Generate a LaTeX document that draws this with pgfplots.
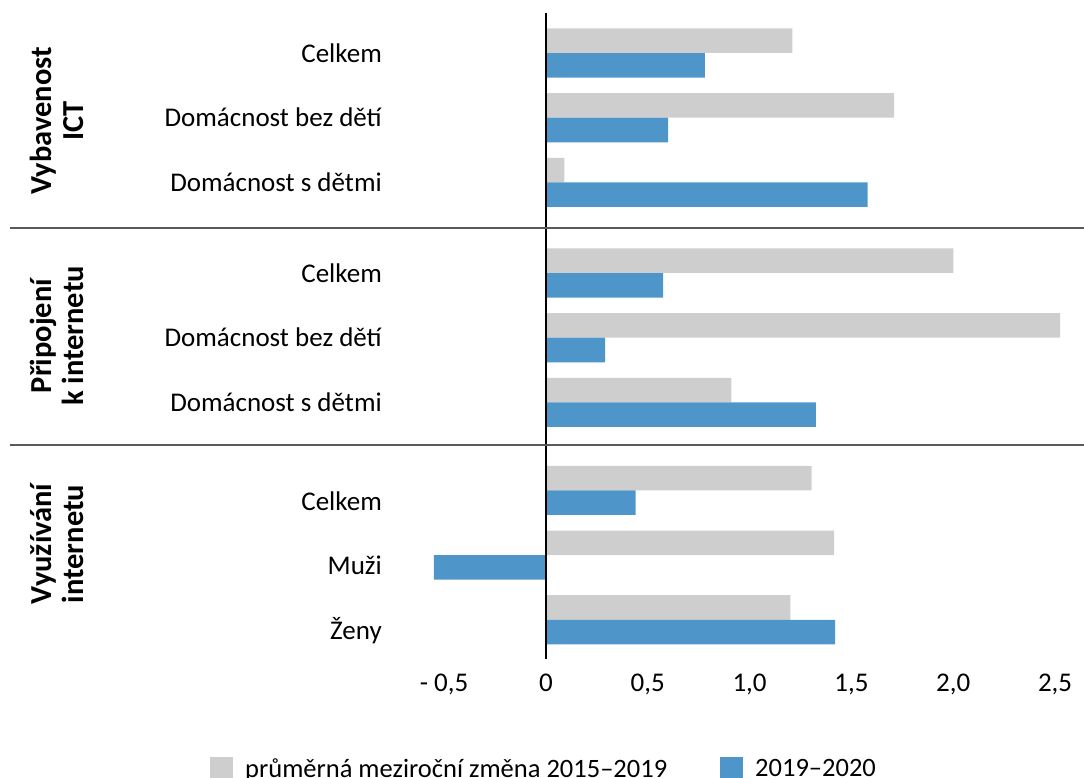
\documentclass[border=0pt]{standalone}
\usepackage{pgfplots}
\pgfplotsset{compat=1.18}
\usepackage{fontspec}
\setmainfont{Carlito}
\definecolor{cgray}{RGB}{206,206,206}
\definecolor{cblue}{RGB}{78,150,201}
\definecolor{csep}{RGB}{90,90,90}
\newcommand{\lblfont}{\fontsize{27}{31}\selectfont}
\newcommand{\legfont}{\fontsize{26.5}{31}\selectfont}
\newcommand{\grpfont}{\fontsize{30.5}{32}\selectfont\bfseries}
\begin{document}
\begin{tikzpicture}
\begin{axis}[
  name=ax,
  scale only axis, width=701pt, height=646.3pt,
  xmin=-0.8, xmax=2.642,
  ymin=-0.623, ymax=9.366, y dir=reverse,
  axis line style={draw=none},
  tick style={draw=none}, major tick length=0pt,
  xtick={-0.5,0,0.5,1,1.5,2,2.5},
  xticklabels={{- 0,5},{0},{0,5},{1,0},{1,5},{2,0},{2,5}},
  ytick={0,1,2,3.4,4.4,5.4,6.92,7.92,8.92},
  yticklabels={Celkem,Domácnost bez dětí,Domácnost s dětmi,Celkem,Domácnost bez dětí,Domácnost s dětmi,Celkem,Muži,Ženy},
  xticklabel style={font=\lblfont, inner sep=0pt, anchor=north, yshift=-15pt},
  yticklabel style={font=\lblfont, inner sep=0pt, anchor=east, xshift=-1pt},
  clip=false,
  legend columns=2,
  legend style={at={(axis description cs:-0.2468,-0.1694)}, anchor=west, draw=none, fill=none,
    inner sep=0pt, font=\legfont, nodes={inner sep=0pt},
    /tikz/every odd column/.append style={column sep=12pt},
    /tikz/every even column/.append style={column sep=53pt}},
  legend image code/.code={\fill[#1] (0pt,-11.5pt) rectangle (23pt,11.5pt);},
]
\addplot[xbar, bar width=0.379, bar shift=0pt, fill=cgray, draw=none] coordinates {
  (1.21,-0.19) (1.71,0.81) (0.09,1.81)
  (2.00,3.21) (2.525,4.21) (0.91,5.21)
  (1.305,6.57) (1.415,7.57) (1.20,8.57)};
\addlegendentry{průměrná meziroční změna 2015–2019}
\addplot[xbar, bar width=0.379, bar shift=0pt, fill=cblue, draw=none] coordinates {
  (0.78,0.19) (0.60,1.19) (1.58,2.19)
  (0.575,3.59) (0.29,4.59) (1.325,5.59)
  (0.44,6.95) (-0.55,7.95) (1.42,8.95)};
\addlegendentry{2019–2020}
\draw[black, line width=2pt] (axis cs:0,-0.623) -- (axis cs:0,9.366);
\draw[csep, line width=1.4pt] (axis cs:-2.6316,2.705) -- (axis cs:2.642,2.705);
\draw[csep, line width=1.4pt] (axis cs:-2.6316,6.059) -- (axis cs:2.642,6.059);
\node[rotate=90, align=center, font=\grpfont, inner sep=0pt] at (axis cs:-2.4008,1.051) {Vybavenost\\ICT};
\node[rotate=90, align=center, font=\grpfont, inner sep=0pt] at (axis cs:-2.4008,4.374) {Připojení\\k internetu};
\node[rotate=90, align=center, font=\grpfont, inner sep=0pt] at (axis cs:-2.4008,7.589) {Využívání\\internetu};
\coordinate (bbA) at (axis cs:-2.6807,11.205);
\coordinate (bbB) at (axis cs:2.642,-0.8193);
\end{axis}
\pgfresetboundingbox
\useasboundingbox (bbA) rectangle (bbB);
\end{tikzpicture}
\end{document}
